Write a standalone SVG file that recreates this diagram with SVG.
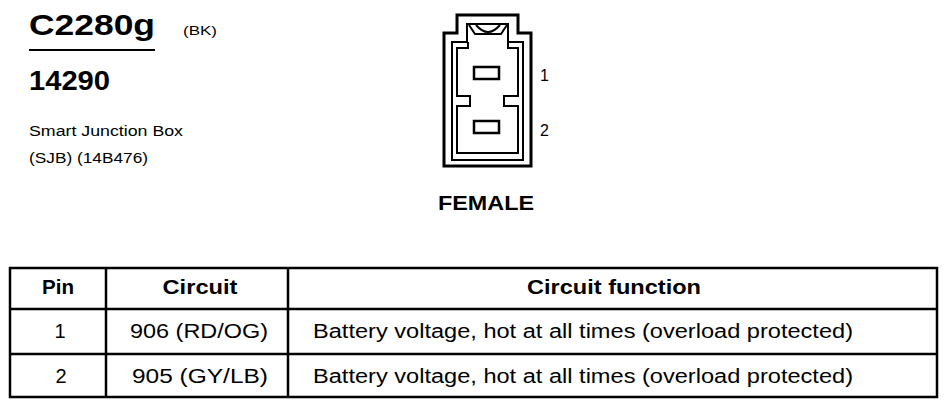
<svg xmlns="http://www.w3.org/2000/svg" width="949" height="408" viewBox="0 0 949 408">
<style>
  text { font-family: "Liberation Sans", Arial, sans-serif; fill: #000; }
  .b { font-weight: bold; }
  .ln { fill: none; stroke: #000; stroke-linejoin: miter; }
  .tbl { fill: none; stroke: #000; stroke-width: 2.5; }
  .cell { font-size: 20px; text-anchor: middle; }
  .hdr { font-size: 20px; font-weight: bold; text-anchor: middle; }
</style>
<rect width="949" height="408" fill="#fff"/>

<g id="title">
  <text class="b" x="29" y="35" font-size="30" textLength="126" lengthAdjust="spacingAndGlyphs">C2280g</text>
  <line x1="29" y1="50" x2="155" y2="50" stroke="#000" stroke-width="2"/>
  <text x="183" y="35" font-size="12" textLength="34" lengthAdjust="spacingAndGlyphs">(BK)</text>
  <text class="b" x="29" y="90" font-size="27" textLength="81" lengthAdjust="spacingAndGlyphs">14290</text>
  <text x="29" y="136" font-size="14" textLength="154" lengthAdjust="spacingAndGlyphs">Smart Junction Box</text>
  <text x="29" y="163" font-size="14" textLength="119" lengthAdjust="spacingAndGlyphs">(SJB) (14B476)</text>
</g>

<g id="connector">
  <path class="ln" stroke-width="3" d="M457,15 H518 V33 H531 V166 H444 V33 H457 Z"/>
  <path class="ln" stroke-width="2" d="M467,24 H508 V42 H523 V160 H452 V42 H467 Z"/>
  <path class="ln" stroke-width="2" d="M468,42 V48 H457 V96 H470 V106 H457 V153 H518 V106 H504 V96 H518 V48 H508 V42"/>
  <path class="ln" stroke-width="2" d="M469,25 L475,34 H501 L507,25"/>
  <path class="ln" stroke-width="2" d="M476,25 Q488,39 500,25"/>
  <rect x="474" y="67" width="25" height="12" class="ln" stroke-width="2.5"/>
  <rect x="474" y="121" width="25" height="12" class="ln" stroke-width="2.5"/>
  <text x="540" y="81" font-size="16">1</text>
  <text x="540" y="136" font-size="16">2</text>
  <text class="b" x="438" y="210" font-size="21" textLength="96" lengthAdjust="spacingAndGlyphs">FEMALE</text>
</g>

<g id="table">
  <rect class="tbl" x="10" y="268" width="927" height="129"/>
  <line class="tbl" x1="10" y1="309" x2="937" y2="309"/>
  <line class="tbl" x1="10" y1="354" x2="937" y2="354"/>
  <line class="tbl" x1="106" y1="268" x2="106" y2="397"/>
  <line class="tbl" x1="288" y1="268" x2="288" y2="397"/>
  <text class="hdr" x="58" y="294" textLength="32" lengthAdjust="spacingAndGlyphs">Pin</text>
  <text class="hdr" x="200" y="294" textLength="75" lengthAdjust="spacingAndGlyphs">Circuit</text>
  <text class="hdr" x="614" y="294" textLength="174" lengthAdjust="spacingAndGlyphs">Circuit function</text>
  <text class="cell" x="60" y="338">1</text>
  <text class="cell" x="199" y="338" textLength="138" lengthAdjust="spacingAndGlyphs">906 (RD/OG)</text>
  <text class="cell" x="583" y="338" textLength="540" lengthAdjust="spacingAndGlyphs">Battery voltage, hot at all times (overload protected)</text>
  <text class="cell" x="61" y="383">2</text>
  <text class="cell" x="200" y="383" textLength="136" lengthAdjust="spacingAndGlyphs">905 (GY/LB)</text>
  <text class="cell" x="583" y="383" textLength="540" lengthAdjust="spacingAndGlyphs">Battery voltage, hot at all times (overload protected)</text>
</g>
</svg>
